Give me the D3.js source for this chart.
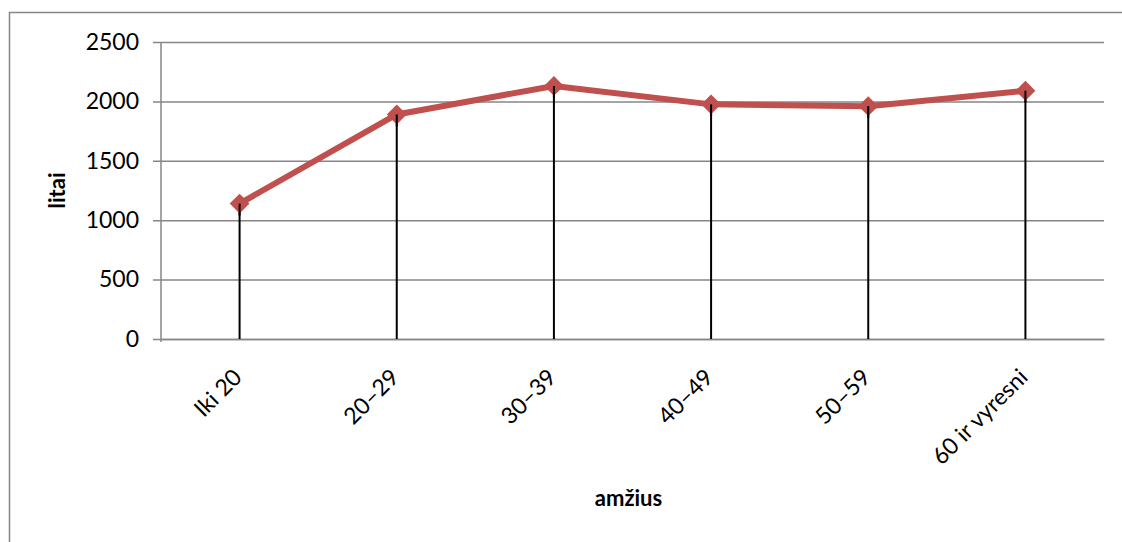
<!DOCTYPE html>
<html>
<head>
<meta charset="utf-8">
<script src="https://cdn.jsdelivr.net/npm/d3@7"></script>
<style>
  html, body { margin: 0; padding: 0; background: #fff; }
  svg { display: block; }
  text { font-family: Lato, "Open Sans", sans-serif; fill: #000; }
</style>
</head>
<body>
<svg id="chart" width="1122" height="542"></svg>
<script>
const categories = ["Iki 20", "20–29", "30–39", "40–49", "50–59", "60 ir vyresni"];
const values = [1140, 1890, 2130, 1975, 1960, 2090];
const yTicks = [0, 500, 1000, 1500, 2000, 2500];
const yTitle = "litai";
const xTitle = "amžius";

const svg = d3.select("#chart");
const W = 1122, H = 542;
const plot = { left: 161, right: 1104, top: 42, bottom: 339 };

// chart area border (right and bottom edges fall outside the picture)
svg.append("rect")
  .attr("x", 9.5).attr("y", 12.5)
  .attr("width", W + 20).attr("height", H + 20)
  .attr("fill", "#fff").attr("stroke", "#868686").attr("stroke-width", 1.5);

const x = d3.scaleBand().domain(categories).range([plot.left, plot.right]).paddingInner(0).paddingOuter(0);
const y = d3.scaleLinear().domain([0, 2500]).range([plot.bottom, plot.top]);

// gridlines + y ticks
const yAxis = d3.axisLeft(y).tickValues(yTicks).tickSize(plot.right - plot.left + 8).tickPadding(14).tickFormat(d3.format("d"));
const gy = svg.append("g").attr("transform", `translate(${plot.right},0)`).call(yAxis);
gy.select(".domain").remove();
gy.selectAll(".tick line").attr("stroke", "#868686").attr("stroke-width", 1.5);
gy.selectAll(".tick text").attr("font-size", 23).attr("font-family", "Lato, sans-serif").attr("fill", "#000");

// y axis line
svg.append("line")
  .attr("x1", plot.left).attr("x2", plot.left)
  .attr("y1", plot.top).attr("y2", plot.bottom + 3)
  .attr("stroke", "#868686").attr("stroke-width", 1.5);

// x axis
const xAxis = d3.axisBottom(x).tickSize(0).tickFormat("");
const gx = svg.append("g").attr("transform", `translate(0,${plot.bottom})`).call(xAxis);
gx.select(".domain").attr("stroke", "#868686").attr("stroke-width", 1.5);

// category labels
svg.append("g").selectAll("text").data(categories).join("text")
  .attr("transform", d => `translate(${x(d) + x.bandwidth() / 2 - 2},${plot.bottom + 34}) rotate(-45)`)
  .attr("text-anchor", "end")
  .attr("dy", "0.35em")
  .attr("font-size", 23)
  .text(d => d);

// drop lines
svg.append("g").selectAll("line").data(values).join("line")
  .attr("x1", (d, i) => x(categories[i]) + x.bandwidth() / 2)
  .attr("x2", (d, i) => x(categories[i]) + x.bandwidth() / 2)
  .attr("y1", d => y(d))
  .attr("y2", y(0))
  .attr("stroke", "#000").attr("stroke-width", 2);

// series line
const line = d3.line()
  .x((d, i) => x(categories[i]) + x.bandwidth() / 2)
  .y(d => y(d));
svg.append("path").datum(values)
  .attr("d", line)
  .attr("fill", "none")
  .attr("stroke", "#C0504D")
  .attr("stroke-width", 6)
  .attr("stroke-linejoin", "round");

// markers
svg.append("g").selectAll("path").data(values).join("path")
  .attr("transform", (d, i) => `translate(${x(categories[i]) + x.bandwidth() / 2},${y(d)})`)
  .attr("d", d3.symbol().type(d3.symbolDiamond2).size(200))
  .attr("fill", "#C0504D")
  .attr("stroke", "#C0504D")
  .attr("stroke-width", 1.5);

// drop line tops visible over markers
svg.append("g").selectAll("line").data(values).join("line")
  .attr("x1", (d, i) => x(categories[i]) + x.bandwidth() / 2)
  .attr("x2", (d, i) => x(categories[i]) + x.bandwidth() / 2)
  .attr("y1", d => y(d))
  .attr("y2", d => y(d) + 12)
  .attr("stroke", "#000").attr("stroke-width", 2);

// axis titles
svg.append("text")
  .attr("transform", `translate(57,${(plot.top + plot.bottom) / 2}) rotate(-90)`)
  .attr("text-anchor", "middle").attr("dy", "0.35em")
  .attr("font-size", 22).attr("font-weight", "bold")
  .text(yTitle);

svg.append("text")
  .attr("x", (plot.left + plot.right) / 2 - 4).attr("y", 498)
  .attr("text-anchor", "middle").attr("dy", "0.35em")
  .attr("font-size", 22).attr("font-weight", "bold")
  .text(xTitle);
</script>
</body>
</html>
